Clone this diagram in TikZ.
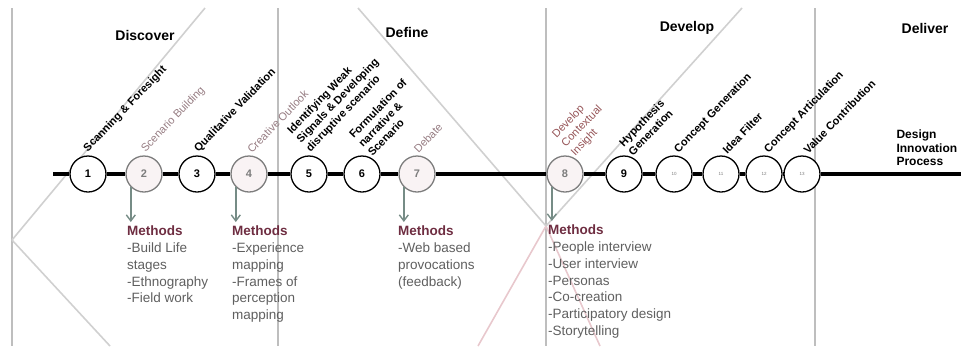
\documentclass[tikz,border=0pt]{standalone}
\usepackage{fontspec}
\setmainfont{Liberation Sans}
\setsansfont{Liberation Sans}
\usetikzlibrary{arrows.meta, positioning}
\definecolor{methred}{RGB}{110,45,65}
\definecolor{listgray}{RGB}{95,95,95}
\definecolor{fadetext}{RGB}{150,124,130}
\definecolor{insighttext}{RGB}{150,85,88}
\definecolor{fadeline}{RGB}{125,125,125}
\definecolor{fadefill}{RGB}{249,243,244}
\definecolor{diaggray}{RGB}{208,208,208}
\definecolor{diagpink}{RGB}{232,200,205}
\definecolor{framegray}{RGB}{190,190,190}
\definecolor{arrowgreen}{RGB}{118,140,134}

\begin{document}
\begin{tikzpicture}[x=1pt, y=-1pt, font=\sffamily,
  frame/.style={draw=framegray, line width=1.5pt},
  diag/.style={draw=diaggray, line width=1.6pt},
  diagp/.style={draw=diagpink, line width=1.6pt},
  timeline/.style={draw=black, line width=3.5pt},
  stage/.style={circle, draw=black, line width=1.3pt, fill=white, minimum size=36pt, inner sep=0pt, font=\sffamily\fontsize{11}{12}\selectfont\bfseries},
  faded/.style={stage, draw=fadeline, fill=fadefill, text=fadeline},
  tinystage/.style={stage, text=fadeline, font=\sffamily\fontsize{4.5}{5}\selectfont},
  lab/.style={anchor=south west, rotate=46, align=left, inner sep=1pt, font=\sffamily\fontsize{11}{13}\selectfont\bfseries},
  fadelab/.style={lab, text=fadetext, font=\sffamily\fontsize{11}{13}\selectfont},
  insightlab/.style={lab, text=insighttext, font=\sffamily\fontsize{11}{13}\selectfont},
  phase/.style={font=\sffamily\fontsize{14}{16}\selectfont\bfseries},
  methods/.style={anchor=north west, align=left, inner sep=0pt, text=listgray, font=\sffamily\fontsize{13.5}{16.7}\selectfont},
  methodarrow/.style={draw=arrowgreen, line width=1.4pt, -{Straight Barb[length=6pt, width=9pt]}, shorten >=4pt}]
\useasboundingbox (0,0) rectangle (961,346);
% frame and double diamond
\foreach \x in {12,278,546,815}{\draw[frame] (\x,8) -- (\x,346);}
\draw[diag] (12,240) -- (205,8);
\draw[diag] (12,240) -- (110,346);
\draw[diag] (358,8) -- (546,226);
\draw[diagp] (546,226) -- (600,346);
\draw[diagp] (478,346) -- (546,226);
\draw[diag] (546,226) -- (742,8);
% phases
\node[phase] (discover) at (145,35) {Discover};
\node[phase] (define) at (407,32) {Define};
\node[phase] (develop) at (687,28) {Develop};
\node[phase] (deliver) at (925,28) {Deliver};
\node[anchor=west, align=left, font=\sffamily\fontsize{12}{13.5}\selectfont\bfseries] (process) at (893,148) {Design\\Innovation\\Process};
% stages on the timeline
\foreach \i/\x/\s in {1/88/stage, 2/144/faded, 3/197/stage, 4/249/faded, 5/309/stage, 6/362/stage, 7/417/faded, 8/565/faded, 9/624/stage}{\node[\s] (c\i) at (\x,174) {\i};}
\foreach \i/\x in {10/674, 11/721, 12/764, 13/802}{\node[tinystage] (c\i) at (\x,174) {\i};}
\coordinate (tlstart) at (53,174);
\coordinate (tlend) at (961,174);
\draw[timeline] (tlstart) -- (c1);
\foreach \i/\j in {1/2, 2/3, 3/4, 4/5, 5/6, 6/7, 7/8, 8/9, 9/10, 10/11, 11/12, 12/13}{\draw[timeline] (c\i) -- (c\j);}
\draw[timeline] (c13) -- (tlend);
% stage labels
\foreach \i/\t/\s/\a in {1/{Scanning \& Foresight}/lab/85, 2/{Scenario Building}/fadelab/80, 3/{Qualitative Validation}/lab/80, 4/{Creative Outlook}/fadelab/80, 5/{Identifying Weak\\Signals \& Developing\\disruptive scenario}/lab/80, 6/{Formulation of\\narrative \&\\Scenario}/lab/55, 7/{Debate}/fadelab/85, 8/{Develop\\Contextual\\Insight}/insightlab/50, 9/{Hypothesis\\Generation}/lab/60, 10/{Concept Generation}/lab/70, 11/{Idea Filter}/lab/70, 12/{Concept Articulation}/lab/70, 13/{Value Contribution}/lab/70}{\node[\s] (l\i) at (c\i.\a) {\t};}
% methods
\node[methods] (m2) at (127,226) {\textcolor{methred}{\bfseries Methods}\\-Build Life\\stages\\-Ethnography\\-Field work};
\node[methods] (m4) at (232,226) {\textcolor{methred}{\bfseries Methods}\\-Experience\\mapping\\-Frames of\\perception\\mapping};
\node[methods] (m7) at (398,226) {\textcolor{methred}{\bfseries Methods}\\-Web based\\provocations\\(feedback)};
\node[methods] (m8) at (548,225) {\textcolor{methred}{\bfseries Methods}\\-People interview\\-User interview\\-Personas\\-Co-creation\\-Participatory design\\-Storytelling};
\foreach \i in {2,4,7,8}{\draw[methodarrow] (c\i.225) -- (c\i.225 |- m\i.north);}
\end{tikzpicture}
\end{document}
